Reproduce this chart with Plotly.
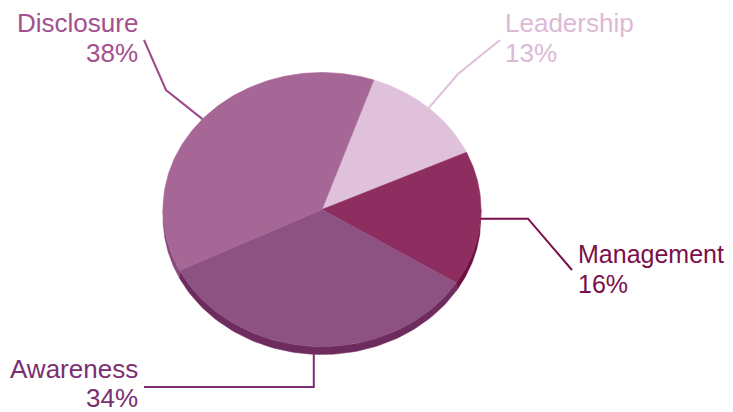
import numpy as np
import plotly.graph_objects as go

# ---- data ----
categories = ["Leadership", "Management", "Awareness", "Disclosure"]
values = [13, 16, 34, 38]
pct_labels = [f"{v}%" for v in values]

# ---- styles ----
top_colors = ["#E0C1DB", "#8E2D5F", "#8E5282", "#A66696"]
side_colors = ["#C9A5C2", "#6E1140", "#6E2C5E", "#874A7A"]
text_colors = ["#DDB9D6", "#7A0F4A", "#7A3070", "#A2508E"]
line_colors = ["#DFBFD9", "#7A0F4A", "#7A3070", "#9C4A8A"]
font_sizes = [26, 25, 26, 26]

W, H = 733, 412
OFF = 8  # default page body margin
cx, cy, ra, rb, depth = 322, 209.5, 159, 137, 8
start_deg = 71.0

# label layout: (elbow point, end point, text x, xanchor, name y, pct y)
label_layout = {
    "Leadership": dict(elbow=(458, 74), end=(500, 40), tx=504, anchor="left", y1=22.5, y2=52.5),
    "Management": dict(elbow=(528, None), end=(572, 270), tx=577, anchor="left", y1=254, y2=284),
    "Awareness": dict(elbow=(None, 387), end=(144, 387), tx=139, anchor="right", y1=369, y2=398),
    "Disclosure": dict(elbow=(166, 90), end=(144, 40), tx=139, anchor="right", y1=22.5, y2=52.5),
}


def pt(t_deg, dy=0.0):
    t = np.radians(t_deg)
    return cx + ra * np.cos(t), cy - rb * np.sin(t) + dy


fig = go.Figure()

total = float(sum(values))
bounds = []
a = start_deg
for v in values:
    b = a - 360.0 * v / total
    bounds.append((a, b))
    a = b

# sides (visible lower half of the ellipse)
for i, (a0, a1) in enumerate(bounds):
    hi, lo = a0, a1
    for k in range(-2, 2):
        seg_lo, seg_hi = -180 + 360 * k, 0 + 360 * k
        s_lo, s_hi = max(lo, seg_lo), min(hi, seg_hi)
        if s_hi - s_lo <= 0.01:
            continue
        ts = np.linspace(s_lo, s_hi, 80)
        xs_top, ys_top = pt(ts)
        xs_bot, ys_bot = pt(ts[::-1], depth)
        xs = np.concatenate([xs_top, xs_bot, xs_top[:1]])
        ys = np.concatenate([ys_top, ys_bot, ys_top[:1]])
        fig.add_trace(go.Scatter(x=xs, y=ys, mode="lines", fill="toself",
                                 fillcolor=side_colors[i],
                                 line=dict(color=side_colors[i], width=0.5),
                                 hoverinfo="skip", showlegend=False))

# top faces
for i, (a0, a1) in enumerate(bounds):
    ts = np.linspace(a0, a1, 120)
    xs, ys = pt(ts)
    xs = np.concatenate([[cx], xs, [cx]])
    ys = np.concatenate([[cy], ys, [cy]])
    fig.add_trace(go.Scatter(x=xs, y=ys, mode="lines", fill="toself",
                             fillcolor=top_colors[i],
                             line=dict(color=top_colors[i], width=0.6),
                             name=categories[i], hoverinfo="name", showlegend=False))

# leader lines and labels
for i, (a0, a1) in enumerate(bounds):
    name = categories[i]
    L = label_layout[name]
    mid = (a0 + a1) / 2.0
    sx, sy = pt(mid)
    if np.sin(np.radians(mid)) < 0 and abs(np.cos(np.radians(mid))) < 0.5:
        sy += depth
    ex, ey = L["elbow"]
    ex = sx if ex is None else ex
    ey = sy if ey is None else ey
    fx, fy = L["end"]
    fig.add_trace(go.Scatter(x=[sx, ex, fx], y=[sy, ey, fy], mode="lines",
                             line=dict(color=line_colors[i], width=2),
                             hoverinfo="skip", showlegend=False))
    for txt, yy in ((name, L["y1"]), (pct_labels[i], L["y2"])):
        fig.add_annotation(x=L["tx"], y=yy, text=txt, showarrow=False,
                           xanchor=L["anchor"], yanchor="middle",
                           font=dict(family="Liberation Sans, Arial", size=font_sizes[i],
                                     color=text_colors[i]),
                           borderpad=0)

fig.update_layout(
    width=W - OFF, height=H - OFF,
    margin=dict(l=0, r=0, t=0, b=0),
    paper_bgcolor="white", plot_bgcolor="white",
    xaxis=dict(range=[OFF, W], visible=False, fixedrange=True),
    yaxis=dict(range=[H, OFF], visible=False, fixedrange=True),
    showlegend=False,
)

fig.write_html("out.html")
